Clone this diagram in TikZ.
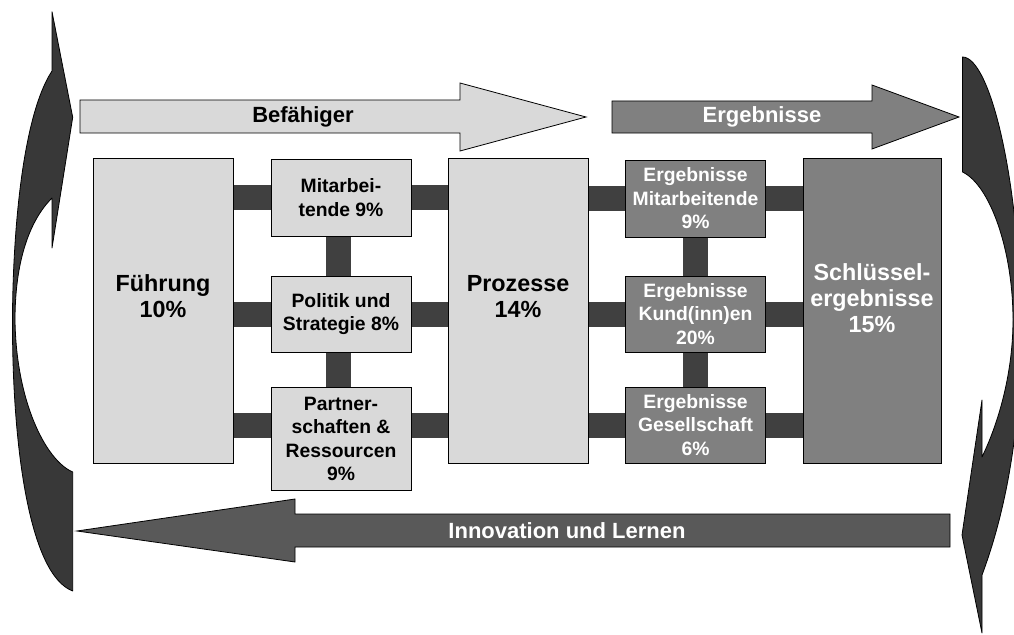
\documentclass[tikz,border=0pt]{standalone}
\usepackage{fontspec}
\setmainfont{Liberation Sans}
\usetikzlibrary{backgrounds}
\definecolor{paleface}{HTML}{D9D9D9}
\definecolor{midface}{HTML}{808080}
\definecolor{loopface}{HTML}{595959}
\definecolor{barface}{HTML}{404040}
\definecolor{swirlface}{HTML}{383838}

\begin{document}
\begin{tikzpicture}[x=0.75pt,y=-0.75pt,
  every node/.style={inner sep=0pt,outer sep=0pt},
  edgeline/.style={draw=black,line width=0.6pt},
  palebox/.style={edgeline,fill=paleface,align=center,text=black},
  midbox/.style={edgeline,fill=midface,align=center,text=white},
  smalltext/.style={font=\bfseries\fontsize{14.5}{17.6}\selectfont},
  bigtext/.style={font=\bfseries\fontsize{17.5}{19.5}\selectfont,align=center},
  arrowtext/.style={font=\bfseries\fontsize{16.5}{19}\selectfont},
  tallbox/.style={minimum width=105pt,minimum height=228.75pt},
  rowbox/.style={minimum width=105pt,minimum height=#1},
  barline/.style={draw=barface,line width=18.75pt,line cap=butt},
  swirl/.style={edgeline,fill=swirlface,line join=round}
]
\path[use as bounding box] (0,0) rectangle (1014,635);

% curved feedback arrow on the left, head pointing up
\draw[swirl] (52,71) .. controls (20,120) and (12,250) .. (12.5,330)
  .. controls (13,450) and (30,575) .. (72.7,591) -- (72.7,472)
  .. controls (45,460) and (16,400) .. (15,320)
  .. controls (15,260) and (30,220) .. (52,198) -- (52,248) -- (72.7,117.3)
  -- (52,11.7) -- cycle;

% curved feedback arrow on the right, head pointing down
\begin{scope}
  \clip (0,0) rectangle (1014,635);
  \draw[swirl] (962.5,57) .. controls (990,57) and (1020,180) .. (1021,330)
    .. controls (1021,460) and (995,540) .. (982,575) -- (982,633) -- (962,535)
    -- (982,400) -- (982,457)
    .. controls (1000,420) and (1013,370) .. (1013,320)
    .. controls (1013,250) and (990,185) .. (962.5,172) -- cycle;
\end{scope}

% banner arrows
\draw[edgeline,fill=paleface] (80,100) -- (460,100) -- (460,83) -- (586,117)
  -- (460,151) -- (460,133) -- (80,133) -- cycle;
\node[arrowtext,text=black] (enablers) at (303,117) {Befähiger};

\draw[edgeline,fill=midface] (612,101) -- (872,101) -- (872,85) -- (959,117)
  -- (872,149) -- (872,133) -- (612,133) -- cycle;
\node[arrowtext,text=white] (results) at (762,117) {Ergebnisse};

\draw[edgeline,fill=loopface] (950,514) -- (295,514) -- (295,499) -- (77,531)
  -- (295,562) -- (295,547) -- (950,547) -- cycle;
\node[arrowtext,text=white] (learning) at (567,531) {Innovation und Lernen};

% model criteria
\node[palebox,tallbox] (fuehrung) at (163,310.5) {};
\node[bigtext] (fuehrungtxt) at (163,296) {Führung\\10\%};

\node[palebox,rowbox=57.75pt,smalltext] (mitarb) at (341,197.5) {Mitarbei-\\tende 9\%};
\node[palebox,rowbox=57pt,smalltext] (politik) at (341,314) {Politik und\\Strategie 8\%};
\node[palebox,rowbox=77.25pt,smalltext] (partner) at (341,439)
  {Partner-\\schaften \&\\Ressourcen\\9\%};

\node[palebox,tallbox] (prozesse) at (518,310.5) {};
\node[bigtext] (prozessetxt) at (518,297) {Prozesse\\14\%};

\node[midbox,rowbox=57.75pt,smalltext] (ergmit) at (695.5,198.5)
  {Ergebnisse\\Mitarbeitende\\9\%};
\node[midbox,rowbox=57pt,smalltext] (ergkun) at (695.5,314)
  {Ergebnisse\\Kund(inn)en\\20\%};
\node[midbox,rowbox=57pt,smalltext] (ergges) at (695.5,425)
  {Ergebnisse\\Gesellschaft\\6\%};

\node[midbox,minimum width=103.5pt,minimum height=228.75pt] (schluessel) at (872,310.5) {};
\node[bigtext,text=white] (schluesseltxt) at (872,298) {Schlüssel-\\ergebnisse\\15\%};

% connecting bars behind the boxes
\begin{scope}[on background layer]
  \draw[barline] (fuehrung.east |- mitarb) -- (mitarb);
  \draw[barline] (mitarb) -- (prozesse.west |- mitarb);
  \draw[barline] (prozesse.east |- ergmit) -- (ergmit);
  \draw[barline] (ergmit) -- (schluessel.west |- ergmit);

  \draw[barline] (fuehrung.east |- politik) -- (politik);
  \draw[barline] (politik) -- (prozesse.west |- politik);
  \draw[barline] (prozesse.east |- ergkun) -- (ergkun);
  \draw[barline] (ergkun) -- (schluessel.west |- ergkun);

  \draw[barline] (fuehrung.east |- ergges) -- (partner.west |- ergges);
  \draw[barline] (partner.east |- ergges) -- (prozesse.west |- ergges);
  \draw[barline] (prozesse.east |- ergges) -- (ergges);
  \draw[barline] (ergges) -- (schluessel.west |- ergges);

  \draw[barline] ([xshift=-2pt]mitarb.south) -- ([xshift=-2pt]politik.north);
  \draw[barline] ([xshift=-2pt]politik.south) -- ([xshift=-2pt]partner.north);
  \draw[barline] (ergmit.south) -- (ergkun.north);
  \draw[barline] (ergkun.south) -- (ergges.north);
\end{scope}
\end{tikzpicture}
\end{document}
